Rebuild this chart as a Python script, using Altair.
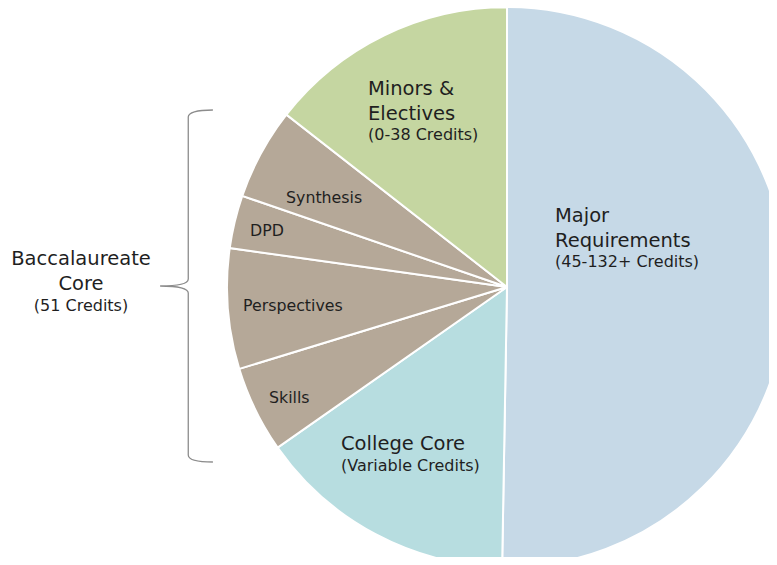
import altair as alt
import pandas as pd

# Slice values (degrees of the circle)
categories = ["Major Requirements", "College Core", "Skills", "Perspectives", "DPD", "Synthesis", "Minors & Electives"]
values = [181, 54, 18, 25, 11, 19, 52]
colors = ["#c6d9e7", "#b7dde0", "#b5a898", "#b5a898", "#b5a898", "#b5a898", "#c5d6a1"]

df = pd.DataFrame({"category": categories, "value": values, "order": list(range(len(categories)))})

FONT = "DejaVu Sans"
TXT = "#1f1f1f"

cx, cy, R = 499, 279, 280

pie = alt.Chart(df).mark_arc(stroke="white", strokeWidth=2, outerRadius=R).encode(
    theta=alt.Theta("value:Q", stack=True),
    order=alt.Order("order:Q"),
    color=alt.Color("category:N", scale=alt.Scale(domain=categories, range=colors), legend=None),
    x=alt.value(cx),
    y=alt.value(cy),
)

one = alt.Data(values=[{"k": 1}])

BIG, MID, SMALL = 19.5, 16, 15.8


def label(text, x, y, size, align="left"):
    return alt.Chart(one).mark_text(
        text=text, x=x, y=y, fontSize=size, font=FONT, color=TXT, align=align, baseline="middle"
    )


labels = [
    label("Major", 547, 208, BIG),
    label("Requirements", 547, 233, BIG),
    label("(45-132+ Credits)", 547, 254, MID),
    label("Minors &", 360, 81, BIG),
    label("Electives", 360, 106, BIG),
    label("(0-38 Credits)", 360, 127, MID),
    label("Synthesis", 278, 190, SMALL),
    label("DPD", 242, 223, SMALL),
    label("Perspectives", 235, 298, SMALL),
    label("Skills", 261, 390, SMALL),
    label("College Core", 333, 436, BIG),
    label("(Variable Credits)", 333, 458, MID),
    label("Baccalaureate", 73, 251, BIG, "center"),
    label("Core", 73, 276, BIG, "center"),
    label("(51 Credits)", 73, 298, MID, "center"),
]

brace_path = (
    "M 0.15 -1 Q 0.01 -1 0.01 -0.96 L 0.01 -0.04 Q 0.01 0 -0.15 0 "
    "Q 0.01 0 0.01 0.04 L 0.01 0.96 Q 0.01 1 0.15 1"
)
brace = alt.Chart(one).mark_point(
    shape=brace_path, size=352 * 352, filled=False, stroke="#8c8c8c", strokeWidth=1.3, opacity=1,
    x=178.5, y=278,
)

chart = alt.layer(pie, brace, *labels).properties(
    width=761, height=549, autosize=alt.AutoSizeParams(type="none"), padding=0
).configure_view(stroke=None)

chart.save("out.html", embed_options={"renderer": "svg", "actions": False})
